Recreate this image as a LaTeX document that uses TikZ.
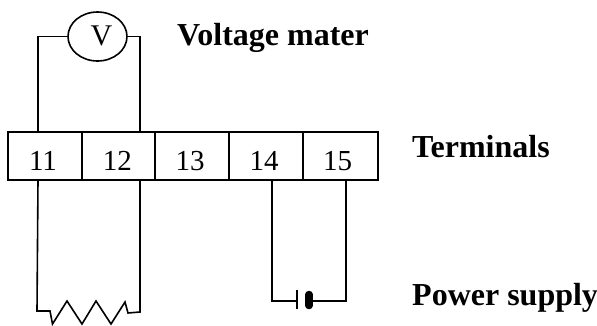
\documentclass[tikz,border=0pt]{standalone}
\usepackage{fontspec}
\setmainfont{Liberation Serif}
\usetikzlibrary{shapes.geometric}
\begin{document}
\begin{tikzpicture}[x=1pt,y=-1pt,
  wire/.style={line width=1.6pt,line join=miter},
  cell/.style={draw,line width=1.6pt,rectangle,minimum height=48pt,inner sep=0pt,font=\fontsize{29}{29}\selectfont},
  lbl/.style={anchor=base west,inner sep=0pt,font=\fontsize{32}{32}\selectfont\bfseries}]
\useasboundingbox (0,0) rectangle (597,325);
\node[cell,minimum width=73.5pt] (c11) at (45,156) {\hspace*{-4pt}\raisebox{-14pt}[0pt][0pt]{11}};
\node[cell,minimum width=73.5pt] (c12) at (118.25,156) {\hspace*{-2pt}\raisebox{-14pt}[0pt][0pt]{12}};
\node[cell,minimum width=73.5pt] (c13) at (192,156) {\hspace*{-4pt}\raisebox{-14pt}[0pt][0pt]{13}};
\node[cell,minimum width=74pt] (c14) at (266,156) {\hspace*{-4pt}\raisebox{-14pt}[0pt][0pt]{14}};
\node[cell,minimum width=75pt] (c15) at (340.5,156) {\hspace*{-6pt}\raisebox{-14pt}[0pt][0pt]{15}};
\node[draw,ellipse,line width=1.6pt,minimum width=59pt,minimum height=49pt,inner sep=0pt,font=\fontsize{30}{30}\selectfont] (v) at (97.5,36.5) {\hspace*{8pt}\raisebox{-8.5pt}[0pt][0pt]{V}};
\node[lbl] (t1) at (177,45) {Voltage mater};
\node[lbl] (t2) at (412,157) {Terminals};
\node[lbl] (t3) at (412,305) {Power supply};
\coordinate (a1) at (38,132); \coordinate (a2) at (140,132);
\coordinate (b1) at (38,180); \coordinate (b2) at (140,180);
\coordinate (d1) at (272,180); \coordinate (d2) at (346,180);
\coordinate (r1) at (37,311); \coordinate (r2) at (140,312);
\coordinate (p1) at (297,301); \coordinate (p2) at (312,301);
\draw[wire] (v.west) -- (38,36.5) -- (a1);
\draw[wire] (v.east) -- (140,36.5) -- (a2);
\draw[wire] (b1) -- (r1) -- (50,311) -- (52.5,324) -- (67,301) -- (82,324) -- (96,301) -- (111,324) -- (125,302) -- (128,313) -- (r2) -- (b2);
\draw[wire] (d1) -- (272,301) -- (p1);
\draw[wire] (d2) -- (346,301) -- (p2);
\draw[line width=2.6pt] (297,290) -- (297,309);
\draw[line width=7.5pt,line cap=round] (309,294.5) -- (309,305.5);
\end{tikzpicture}
\end{document}
